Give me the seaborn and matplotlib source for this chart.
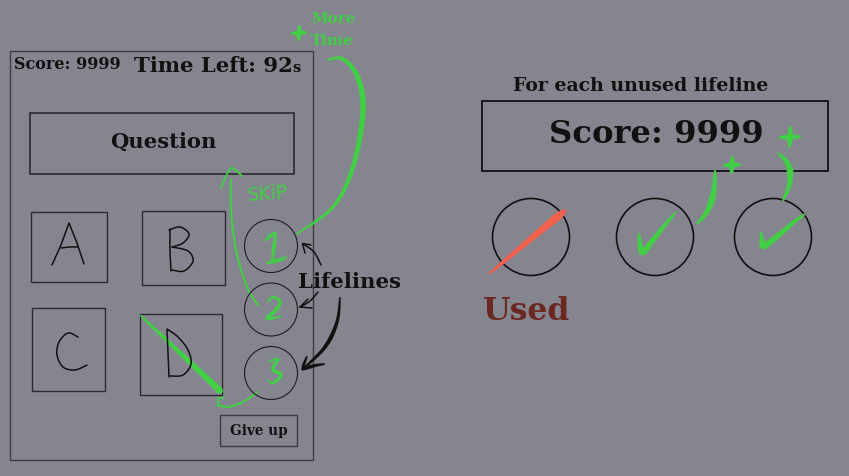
from math import comb

import matplotlib
matplotlib.use("Agg")
import matplotlib.pyplot as plt
import numpy as np
import seaborn as sns
from matplotlib.patches import Circle, Polygon, Rectangle

# texts of the mock-up
hud_score = "Score: 9999"
hud_time = "Time Left: 92"
hud_time_unit = "s"
question_label = "Question"
answer_labels = ["A", "B", "C", "D"]
lifeline_numbers = ["1", "2", "3"]
lifelines_title = "Lifelines"
giveup_label = "Give up"
bonus_title = "For each unused lifeline"
final_score = "Score: 9999"
used_label = "Used"
more_time_label = ["More", "Time"]
skip_label = "SKiP"

BG = "#85858f"
GREEN = "#43cf45"
RED = "#f2604e"
BROWN = "#6a2820"
INK = "#111111"
SERIF = "DejaVu Serif"


def spline(pts, n=24):
    p = np.asarray(pts, float)
    p = np.vstack([p[0], p, p[-1]])
    out = []
    for i in range(1, len(p) - 2):
        p0, p1, p2, p3 = p[i - 1], p[i], p[i + 1], p[i + 2]
        t = np.linspace(0, 1, n, endpoint=False)[:, None]
        out.append(0.5 * (2 * p1 + (-p0 + p2) * t
                          + (2 * p0 - 5 * p1 + 4 * p2 - p3) * t ** 2
                          + (-p0 + 3 * p1 - 3 * p2 + p3) * t ** 3))
    out.append(p[-2][None])
    return np.vstack(out)


def line(ax, pts, color=INK, lw=1.1):
    c = spline(pts)
    ax.plot(c[:, 0], c[:, 1], color=color, lw=lw, solid_capstyle="round",
            solid_joinstyle="round")


def brush(ax, pts, width, color=GREEN, peak=0.5):
    # tapered marker stroke
    c = spline(pts, 30)
    d = np.gradient(c, axis=0)
    nrm = np.stack([-d[:, 1], d[:, 0]], 1)
    nrm /= np.linalg.norm(nrm, axis=1)[:, None] + 1e-9
    t = np.linspace(0, 1, len(c))
    w = np.where(t < peak, (t / peak) ** 0.6, ((1 - t) / (1 - peak + 1e-9)) ** 0.6)
    w = np.nan_to_num(w, nan=1.0)
    w = width / 2 * w + 0.5
    poly = np.vstack([c + nrm * w[:, None], (c - nrm * w[:, None])[::-1]])
    ax.add_patch(Polygon(poly, closed=True, fc=color, ec="none"))


def plus(ax, cx, cy, half, width):
    brush(ax, [(cx - half, cy + 0.5), (cx + half, cy - 0.5)], width)
    brush(ax, [(cx + 0.5, cy - half), (cx - 0.5, cy + half)], width)


sns.set_theme(style="white")
fig = plt.figure(figsize=(8.49, 4.76), dpi=100, facecolor=BG)
ax = fig.add_axes([0, 0, 1, 1])
ax.set_facecolor(BG)

# ---------------- left: game screen ----------------
ax.add_patch(Rectangle((10, 51), 303, 409, fill=False, ec="#3d3d44", lw=1.0))
ax.text(14, 69, hud_score, family=SERIF, weight="bold", fontsize=11.5, color=INK)
ax.text(134, 72, hud_time, family=SERIF, weight="bold", fontsize=15.2, color=INK)
ax.text(292, 72, hud_time_unit, family=SERIF, weight="bold", fontsize=10.5, color=INK)

ax.add_patch(Rectangle((30, 113), 264, 61, fill=False, ec="#222228", lw=1.1))
ax.text(163, 148, question_label, family=SERIF, weight="bold", fontsize=15.2,
        color=INK, ha="center")

answer_boxes = [(31, 212, 76, 70), (142, 211, 83, 74), (32, 308, 73, 83), (140, 314, 82, 81)]
for (bx, by, bw, bh), lab in zip(answer_boxes, answer_labels):
    ax.add_patch(Rectangle((bx, by), bw, bh, fill=False, ec="#2a2a30", lw=1.0, gid=lab))

# hand-drawn letters A B C D
ax.plot([52, 61, 69, 77, 84], [265, 245, 223, 243, 264], color=INK, lw=1.1)
line(ax, [(61, 248), (70, 247), (78, 247)])
line(ax, [(170, 229), (170, 250), (171, 271)])
line(ax, [(169, 230), (180, 227), (189, 234), (183, 243), (172, 247)])
line(ax, [(172, 247), (188, 251), (193, 261), (184, 271), (172, 270)])
line(ax, [(78, 337), (68, 333), (59, 342), (57, 355), (63, 367), (75, 370), (87, 365)])
line(ax, [(167, 330), (168, 353), (169, 377)])
line(ax, [(167, 329), (178, 337), (188, 350), (191, 364), (183, 375), (170, 376)])

# lifeline circles
life_x = [271, 271, 271]
life_y = [246, 309.5, 373]
sns.scatterplot(x=life_x, y=life_y, s=(53 * 0.72) ** 2, marker="o",
                facecolor="none", edgecolor="#1c1c22", linewidth=0.8, ax=ax,
                legend=False, zorder=3)
# hand-drawn digits
brush(ax, [(265, 241), (270, 236), (276, 232)], 2.6, peak=0.5)
brush(ax, [(276, 232), (274, 247), (272, 262)], 2.9, peak=0.5)
brush(ax, [(266, 263), (276, 261), (287, 257)], 2.9, peak=0.5)
brush(ax, [(267, 303), (273, 297), (280, 302), (275, 311), (267, 318), (274, 318), (281, 316)], 2.9, peak=0.5)
brush(ax, [(268, 362), (278, 359), (273, 369), (281, 375), (273, 383), (268, 380)], 2.9, peak=0.5)

# black arrows from "Lifelines"
ax.text(298, 288, lifelines_title, family=SERIF, weight="bold", fontsize=15.3, color=INK)
line(ax, [(321, 265), (314, 252), (303, 244)], lw=1.1)
ax.plot([305, 302.5, 311], [253, 243.5, 245], color=INK, lw=1.1)
line(ax, [(318, 292), (310, 301), (300, 307)], lw=1.1)
ax.plot([308, 300, 312], [299, 307, 308], color=INK, lw=1.1)
brush(ax, [(340, 297), (337, 322), (325, 347), (302, 370)], 3.2, color=INK, peak=0.55)
brush(ax, [(307, 356), (304, 364), (302, 370)], 2.2, color=INK, peak=0.6)
brush(ax, [(302, 370), (313, 366), (325, 364)], 2.6, color=INK, peak=0.4)

ax.add_patch(Rectangle((220, 415), 77, 31, fill=False, ec="#3a3a40", lw=1.0))
ax.text(258.5, 435, giveup_label, family=SERIF, weight="bold", fontsize=9.8,
        color=INK, ha="center")

# green annotations
plus(ax, 299, 33, 8, 4)
ax.text(311, 23, more_time_label[0], family=SERIF, weight="bold", fontsize=10.8, color=GREEN)
ax.text(311, 45, more_time_label[1], family=SERIF, weight="bold", fontsize=10.8, color=GREEN)
brush(ax, [(295, 235), (333, 207), (353, 167), (363, 112), (358, 78), (343, 59), (327, 60)],
      4.8, peak=0.55)
line(ax, [(258, 305), (247, 287), (236, 250), (231, 210), (231, 180)], color=GREEN, lw=1.5)
line(ax, [(221, 188), (226, 176), (232, 168), (242, 176)], color=GREEN, lw=1.4)
ax.text(247, 201, skip_label, family="DejaVu Sans", fontsize=13.5, color=GREEN, rotation=4)
brush(ax, [(140, 315), (180, 353), (214, 385), (222, 393)], 6.0, peak=0.8)
line(ax, [(257, 392), (243, 402), (228, 407), (219, 405)], color=GREEN, lw=1.5)
ax.plot([224, 218, 218, 223], [398, 398, 406, 406], color=GREEN, lw=1.3)

# ---------------- right: scoring explanation ----------------
ax.text(513, 91, bonus_title, family=SERIF, weight="bold", fontsize=13.6, color=INK)
ax.add_patch(Rectangle((482, 101), 346, 70, fill=False, ec=INK, lw=1.3))
ax.text(549, 143, final_score, family=SERIF, weight="bold", fontsize=23.2, color=INK)

bonus_x = [531, 655, 773]
for cx in bonus_x:
    ax.add_patch(Circle((cx, 237), 38.5, fill=False, ec=INK, lw=1.2))

brush(ax, [(489, 274), (520, 248), (545, 227), (566, 210)], 7.0, color=RED, peak=0.85)
ax.text(483, 320, used_label, family=SERIF, weight="bold", fontsize=22.8, color=BROWN)

brush(ax, [(639, 233), (640, 244), (643, 252), (653, 240), (665, 225), (676, 212)], 5.5, peak=0.4)
brush(ax, [(761, 232), (762, 240), (764, 246), (780, 234), (794, 222), (805, 214)], 5.5, peak=0.4)
brush(ax, [(697, 224), (708, 210), (714, 190), (715, 170)], 5.5, peak=0.5)
brush(ax, [(783, 201), (789, 186), (790, 171), (786, 161), (778, 153)], 5.5, peak=0.5)
plus(ax, 790, 137, 11, 4.5)
plus(ax, 732, 165, 9, 4.5)

ax.set_xlim(0, 849)
ax.set_ylim(476, 0)
ax.axis("off")
fig.savefig("out.png", dpi=100, facecolor=BG)
